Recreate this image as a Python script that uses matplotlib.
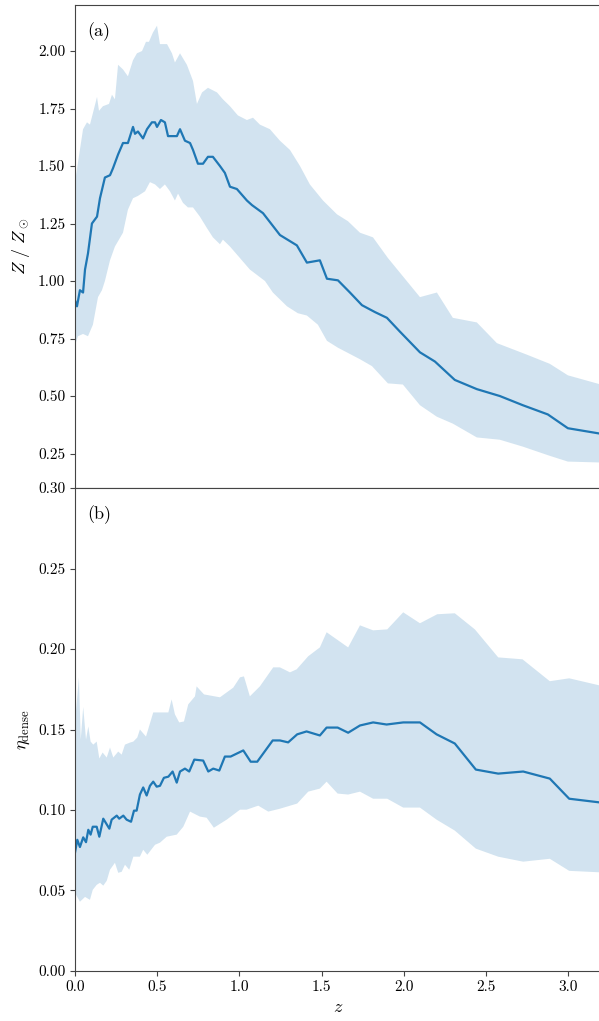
import matplotlib
matplotlib.use("Agg")
import matplotlib.pyplot as plt
import numpy as np

plt.rcParams['font.family'] = ['cmr10', 'DejaVu Serif']
plt.rcParams['mathtext.fontset'] = 'cm'
plt.rcParams['axes.formatter.use_mathtext'] = True
plt.rcParams['axes.edgecolor'] = '#444444'
plt.rcParams['xtick.color'] = '#444444'
plt.rcParams['ytick.color'] = '#444444'
plt.rcParams['xtick.labelcolor'] = 'black'
plt.rcParams['ytick.labelcolor'] = 'black'

# ---- panel (a): metallicity vs redshift ----
z_met = [0.000, 0.012, 0.030, 0.049, 0.061, 0.079, 0.103, 0.134, 0.152, 0.182,
         0.213, 0.231, 0.262, 0.292, 0.322, 0.353, 0.365, 0.383, 0.414, 0.438,
         0.468, 0.487, 0.499, 0.523, 0.547, 0.566, 0.596, 0.620, 0.639, 0.669,
         0.700, 0.718, 0.748, 0.779, 0.809, 0.839, 0.882, 0.912, 0.943, 0.985,
         1.046, 1.077, 1.144, 1.247, 1.350, 1.411, 1.490, 1.533, 1.600, 1.673,
         1.746, 1.825, 1.898, 1.977, 2.099, 2.190, 2.311, 2.445, 2.585, 2.725,
         2.877, 2.999, 3.250]
met_med = [0.916, 0.89, 0.96, 0.95, 1.05, 1.12, 1.25, 1.28, 1.36, 1.45,
           1.46, 1.49, 1.55, 1.60, 1.60, 1.67, 1.64, 1.65, 1.62, 1.66,
           1.69, 1.69, 1.67, 1.70, 1.69, 1.63, 1.63, 1.63, 1.66, 1.61,
           1.60, 1.57, 1.51, 1.51, 1.54, 1.54, 1.50, 1.47, 1.41, 1.40,
           1.35, 1.33, 1.295, 1.20, 1.155, 1.08, 1.09, 1.01, 1.003, 0.95,
           0.895, 0.865, 0.84, 0.78, 0.69, 0.65, 0.57, 0.53, 0.50, 0.46,
           0.42, 0.36, 0.33]

z_met_hi = [0.000, 0.049, 0.073, 0.091, 0.109, 0.134, 0.146, 0.170, 0.207, 0.225,
            0.243, 0.262, 0.292, 0.322, 0.353, 0.377, 0.408, 0.432, 0.450, 0.474,
            0.499, 0.517, 0.560, 0.590, 0.608, 0.639, 0.681, 0.718, 0.742, 0.773,
            0.809, 0.864, 0.900, 0.943, 0.991, 1.046, 1.083, 1.125, 1.186, 1.247,
            1.308, 1.369, 1.429, 1.509, 1.594, 1.661, 1.734, 1.813, 1.904, 2.099,
            2.202, 2.299, 2.445, 2.567, 2.749, 2.889, 2.999, 3.250]
met_hi = [1.43, 1.66, 1.69, 1.68, 1.73, 1.80, 1.74, 1.76, 1.77, 1.81,
          1.79, 1.94, 1.92, 1.89, 1.96, 1.99, 2.00, 2.04, 2.04, 2.08,
          2.11, 2.03, 2.03, 1.99, 1.95, 1.99, 1.94, 1.87, 1.77, 1.82,
          1.84, 1.82, 1.79, 1.76, 1.72, 1.70, 1.71, 1.68, 1.66, 1.61,
          1.57, 1.50, 1.42, 1.35, 1.29, 1.26, 1.21, 1.19, 1.10, 0.93,
          0.95, 0.84, 0.82, 0.73, 0.68, 0.64, 0.59, 0.54]

z_met_lo = [0.000, 0.018, 0.049, 0.079, 0.109, 0.140, 0.164, 0.182, 0.213, 0.243,
            0.292, 0.322, 0.353, 0.383, 0.426, 0.456, 0.487, 0.517, 0.547, 0.578,
            0.608, 0.627, 0.657, 0.687, 0.718, 0.760, 0.803, 0.839, 0.882, 0.900,
            0.943, 1.064, 1.156, 1.204, 1.290, 1.356, 1.411, 1.478, 1.533, 1.600,
            1.734, 1.807, 1.904, 1.995, 2.099, 2.202, 2.299, 2.445, 2.585, 2.725,
            2.889, 2.999, 3.250]
met_lo = [0.72, 0.76, 0.77, 0.76, 0.81, 0.93, 0.96, 1.00, 1.09, 1.15,
          1.21, 1.31, 1.36, 1.37, 1.39, 1.43, 1.42, 1.40, 1.42, 1.39,
          1.35, 1.38, 1.34, 1.32, 1.32, 1.28, 1.23, 1.19, 1.16, 1.18,
          1.15, 1.05, 1.00, 0.95, 0.89, 0.86, 0.85, 0.81, 0.74, 0.71,
          0.66, 0.63, 0.555, 0.55, 0.46, 0.41, 0.38, 0.32, 0.31, 0.28,
          0.24, 0.215, 0.21]

# ---- panel (b): dense gas fraction vs redshift ----
z_eta = [0.000, 0.014, 0.030, 0.050, 0.067, 0.081, 0.095, 0.108, 0.132, 0.148,
         0.172, 0.209, 0.223, 0.254, 0.269, 0.294, 0.314, 0.341, 0.359, 0.375,
         0.395, 0.415, 0.436, 0.456, 0.476, 0.497, 0.517, 0.541, 0.568, 0.594,
         0.619, 0.639, 0.669, 0.695, 0.726, 0.780, 0.811, 0.841, 0.878, 0.912,
         0.947, 1.024, 1.069, 1.109, 1.203, 1.247, 1.297, 1.352, 1.409, 1.490,
         1.531, 1.598, 1.662, 1.734, 1.814, 1.896, 1.997, 2.099, 2.200, 2.311,
         2.439, 2.575, 2.727, 2.889, 3.007, 3.250]
eta_med = [0.0735, 0.0815, 0.077, 0.083, 0.080, 0.0877, 0.0847, 0.0896, 0.0896, 0.0834,
           0.0946, 0.0884, 0.094, 0.0965, 0.0946, 0.0965, 0.094, 0.0927, 0.0996, 0.0996,
           0.1096, 0.114, 0.109, 0.115, 0.1176, 0.1145, 0.115, 0.120, 0.1207, 0.1239,
           0.117, 0.1239, 0.1257, 0.1239, 0.1313, 0.1307, 0.1239, 0.1257, 0.1245, 0.1332,
           0.1332, 0.137, 0.130, 0.130, 0.1432, 0.1432, 0.142, 0.147, 0.1488, 0.1463,
           0.1512, 0.1512, 0.148, 0.1525, 0.1544, 0.1531, 0.1544, 0.1544, 0.147, 0.1413,
           0.1251, 0.1226, 0.1239, 0.1195, 0.107, 0.104]

z_eta_hi = [0.000, 0.024, 0.035, 0.050, 0.067, 0.081, 0.095, 0.111, 0.132, 0.148,
            0.168, 0.193, 0.213, 0.233, 0.263, 0.284, 0.304, 0.335, 0.355, 0.379,
            0.395, 0.432, 0.476, 0.568, 0.588, 0.608, 0.634, 0.663, 0.689, 0.730,
            0.740, 0.785, 0.882, 0.963, 1.004, 1.028, 1.064, 1.125, 1.206, 1.247,
            1.308, 1.349, 1.419, 1.490, 1.531, 1.662, 1.734, 1.814, 1.900, 1.997,
            2.099, 2.204, 2.311, 2.433, 2.575, 2.723, 2.889, 3.007, 3.250]
eta_hi = [0.1544, 0.1824, 0.1438, 0.164, 0.1438, 0.1519, 0.1425, 0.1406, 0.1425, 0.132,
          0.1357, 0.1326, 0.1388, 0.1326, 0.1363, 0.1344, 0.1406, 0.1419, 0.1425, 0.145,
          0.150, 0.1456, 0.1606, 0.1606, 0.1687, 0.1594, 0.1544, 0.155, 0.1656, 0.1706,
          0.1768, 0.1718, 0.170, 0.176, 0.1824, 0.183, 0.1706, 0.1768, 0.1886, 0.1886,
          0.1855, 0.1874, 0.1955, 0.201, 0.2104, 0.201, 0.2147, 0.2116, 0.2122, 0.2228,
          0.216, 0.2216, 0.2222, 0.2122, 0.1948, 0.1936, 0.180, 0.1818, 0.176]

z_eta_lo = [0.000, 0.030, 0.061, 0.091, 0.108, 0.132, 0.152, 0.172, 0.193, 0.213,
            0.243, 0.263, 0.284, 0.304, 0.330, 0.355, 0.395, 0.415, 0.440, 0.487,
            0.517, 0.558, 0.619, 0.659, 0.700, 0.760, 0.801, 0.845, 0.923, 1.004,
            1.044, 1.115, 1.176, 1.247, 1.352, 1.419, 1.490, 1.531, 1.598, 1.662,
            1.734, 1.814, 1.900, 1.997, 2.099, 2.200, 2.311, 2.439, 2.575, 2.727,
            2.889, 3.007, 3.250]
eta_lo = [0.0485, 0.043, 0.046, 0.0442, 0.0504, 0.0535, 0.0548, 0.053, 0.056, 0.0629,
          0.0672, 0.061, 0.0616, 0.066, 0.0629, 0.071, 0.071, 0.0753, 0.0722, 0.0784,
          0.0797, 0.0834, 0.0847, 0.0896, 0.099, 0.0959, 0.0952, 0.089, 0.094, 0.1002,
          0.1002, 0.1027, 0.099, 0.1008, 0.104, 0.1114, 0.1133, 0.1176, 0.1102, 0.1096,
          0.1114, 0.107, 0.107, 0.1015, 0.1015, 0.094, 0.0872, 0.076, 0.071, 0.0679,
          0.0697, 0.0622, 0.061]

line_color = '#1f77b4'

fig = plt.figure(figsize=(5.99, 10.21), dpi=100)
ax_a = fig.add_axes([0.1252, 0.522, 0.878, 0.4731])
ax_b = fig.add_axes([0.1252, 0.049, 0.878, 0.473], sharex=ax_a)


def draw_panel(ax, z_lo, lo, z_hi, hi, z, med):
    # band between the lower and upper percentiles
    ax.fill(np.r_[z_hi, z_lo[::-1]], np.r_[hi, lo[::-1]],
            color=line_color, alpha=0.2, lw=0)
    ax.plot(z, med, color=line_color, lw=1.6)


draw_panel(ax_a, z_met_lo, met_lo, z_met_hi, met_hi, z_met, met_med)
draw_panel(ax_b, z_eta_lo, eta_lo, z_eta_hi, eta_hi, z_eta, eta_med)

ax_a.set_xlim(0, 3.2)
ax_a.set_ylim(0.1, 2.2)
ax_a.set_yticks([0.25, 0.50, 0.75, 1.00, 1.25, 1.50, 1.75, 2.00])
ax_a.set_yticklabels(['0.25', '0.50', '0.75', '1.00', '1.25', '1.50', '1.75', '2.00'])
ax_a.tick_params(labelbottom=False, bottom=False, labelsize=11)
ax_a.set_ylabel(r'$Z\ /\ Z_\odot$', fontsize=13)
ax_a.text(0.024, 0.965, '(a)', transform=ax_a.transAxes, fontsize=13,
          ha='left', va='top')

ax_b.set_ylim(0, 0.3)
ax_b.set_yticks([0.00, 0.05, 0.10, 0.15, 0.20, 0.25, 0.30])
ax_b.set_yticklabels(['0.00', '0.05', '0.10', '0.15', '0.20', '0.25', '0.30'])
ax_b.set_xticks([0.0, 0.5, 1.0, 1.5, 2.0, 2.5, 3.0])
ax_b.set_xticklabels(['0.0', '0.5', '1.0', '1.5', '2.0', '2.5', '3.0'])
ax_b.tick_params(labelsize=11)
ax_b.set_ylabel(r'$\eta_{\rm dense}$', fontsize=13)
ax_b.set_xlabel(r'$z$', fontsize=13)
ax_b.text(0.024, 0.965, '(b)', transform=ax_b.transAxes, fontsize=13,
          ha='left', va='top')

fig.savefig('out.png', dpi=100)
